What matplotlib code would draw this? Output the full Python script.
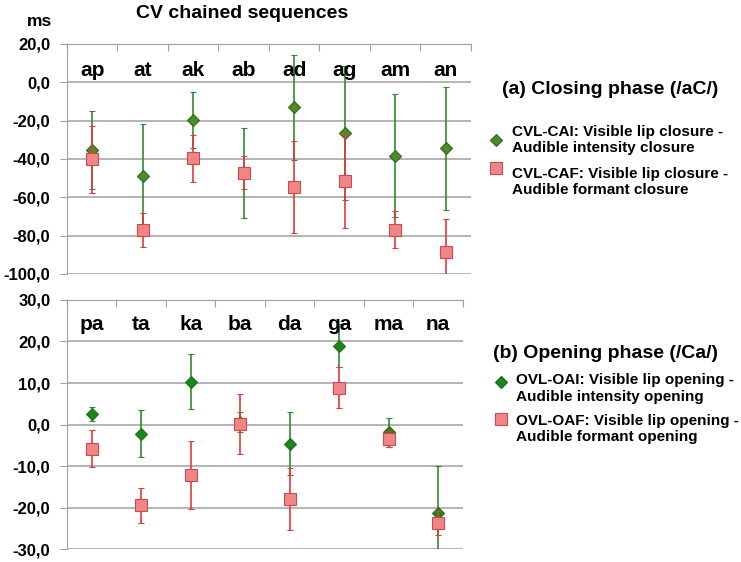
import numpy as np
import matplotlib
matplotlib.use("Agg")
import matplotlib.pyplot as plt
from matplotlib.lines import Line2D
import matplotlib.transforms as mtransforms

plt.rcParams['font.family'] = ['Liberation Sans', 'DejaVu Sans']
plt.rcParams['font.weight'] = 'bold'

# closing phase (/aC/)
close_cats = ['ap', 'at', 'ak', 'ab', 'ad', 'ag', 'am', 'an']
cai_mean = [-35.3, -48.7, -19.7, -47.4, -13.1, -26.3, -38.4, -34.4]
cai_err = [20.5, 26.8, 14.4, 23.6, 27.2, 35.0, 32.1, 32.2]
caf_mean = [-40.2, -77.0, -39.7, -47.1, -54.5, -51.5, -77.0, -88.4]
caf_err = [17.5, 8.8, 12.1, 8.5, 24.1, 24.3, 9.6, 17.0]

# opening phase (/Ca/)
open_cats = ['pa', 'ta', 'ka', 'ba', 'da', 'ga', 'ma', 'na']
oai_mean = [2.6, -2.2, 10.3, 0.5, -4.6, 19.0, -1.9, -21.4]
oai_err = [1.7, 5.6, 6.6, 2.4, 7.6, 5.1, 3.5, 11.4]
oaf_mean = [-5.8, -19.5, -12.2, 0.1, -18.0, 8.9, -3.5, -23.7]
oaf_err = [4.4, 4.3, 8.2, 7.2, 7.5, 5.0, 1.9, 2.9]

close_ticks = [20, 0, -20, -40, -60, -80, -100]
open_ticks = [30, 20, 10, 0, -10, -20, -30]

green_top = '#4f8a2b'
green_bot = '#15891a'
green_line = '#2f8a2f'
red_fill = '#f08585'
red_edge = '#d0494a'
red_line = '#e23a3a'
grid_c = '#a0a0a0'

fig = plt.figure(figsize=(7.41, 5.62), dpi=100)
ax1 = fig.add_axes([0.0904, 0.5125, 0.5452, 0.4093])
ax2 = fig.add_axes([0.0904, 0.0231, 0.5344, 0.4431])


def draw_panel(ax, cats, gm, ge, rm, re, ticks, gcol, ylab_y):
    x = np.arange(len(cats))
    ax.errorbar(x, gm, yerr=ge, fmt='D', color=gcol, ecolor=green_line,
                elinewidth=1.2, capsize=2.5, capthick=1.0, markersize=6.5,
                markeredgecolor='#2d6a1a', markeredgewidth=0.8, zorder=3)
    ax.errorbar(x, rm, yerr=re, fmt='s', color=red_fill, ecolor=red_line,
                elinewidth=1.2, capsize=2.5, capthick=1.0, markersize=8,
                markeredgecolor=red_edge, markeredgewidth=0.8, zorder=4)
    ax.set_xlim(-0.5, len(cats) - 0.5)
    ax.set_ylim(min(ticks), max(ticks))
    ax.set_yticks(ticks)
    ax.set_yticklabels([('%.1f' % t).replace('.', ',') for t in ticks],
                       fontsize=12, fontweight='bold')
    ax.yaxis.grid(True, color=grid_c, linewidth=1.1)
    ax.set_axisbelow(True)
    ax.xaxis.tick_top()
    ax.set_xticks(np.arange(len(cats) + 1) - 0.5)
    ax.set_xticklabels([])
    ax.tick_params(axis='x', direction='in', length=5, color=grid_c, top=True, bottom=False)
    ax.tick_params(axis='y', direction='out', length=5, color=grid_c, pad=7)
    for s in ['right', 'bottom']:
        ax.spines[s].set_visible(False)
    for s in ['left', 'top']:
        ax.spines[s].set_color(grid_c)
    trans = mtransforms.blended_transform_factory(ax.transData, ax.transData)
    for i, c in enumerate(cats):
        ax.text(i, ylab_y, c, ha='center', va='center', fontsize=15,
                fontweight='bold', transform=trans)


draw_panel(ax1, close_cats, cai_mean, cai_err, caf_mean, caf_err,
           close_ticks, green_top, 6.0)
draw_panel(ax2, open_cats, oai_mean, oai_err, oaf_mean, oaf_err,
           open_ticks, green_bot, 24.0)

fig.text(242 / 741, 1 - 14 / 562, 'CV chained sequences', ha='center',
         va='center', fontsize=14, fontweight='bold')
fig.text(40 / 741, 1 - 21 / 562, 'ms', ha='center', va='center',
         fontsize=12.5, fontweight='bold')

# legend texts
fig.text(502 / 741, 1 - 90 / 562, '(a) Closing phase (/aC/)', ha='left',
         va='center', fontsize=14, fontweight='bold')
fig.text(512 / 741, 1 - 140 / 562,
         'CVL-CAI: Visible lip closure -\nAudible intensity closure',
         ha='left', va='center', fontsize=11, fontweight='bold', linespacing=1.2)
fig.text(512 / 741, 1 - 182 / 562,
         'CVL-CAF: Visible lip closure -\nAudible formant closure',
         ha='left', va='center', fontsize=11, fontweight='bold', linespacing=1.2)

fig.text(493 / 741, 1 - 353 / 562, '(b) Opening phase (/Ca/)', ha='left',
         va='center', fontsize=14, fontweight='bold')
fig.text(516 / 741, 1 - 388.5 / 562,
         'OVL-OAI: Visible lip opening -\nAudible intensity opening',
         ha='left', va='center', fontsize=11, fontweight='bold', linespacing=1.2)
fig.text(516 / 741, 1 - 429 / 562,
         'OVL-OAF: Visible lip opening -\nAudible formant opening',
         ha='left', va='center', fontsize=11, fontweight='bold', linespacing=1.2)

fig.add_artist(Line2D([495.5 / 741], [1 - 140 / 562], marker='D', markersize=6,
                      color=green_top, markeredgecolor='#2d6a1a',
                      markeredgewidth=0.8, transform=fig.transFigure))
fig.add_artist(Line2D([495.5 / 741], [1 - 168 / 562], marker='s', markersize=8,
                      color=red_fill, markeredgecolor=red_edge,
                      markeredgewidth=0.8, transform=fig.transFigure))
fig.add_artist(Line2D([500.5 / 741], [1 - 382 / 562], marker='D', markersize=6,
                      color=green_bot, markeredgecolor='#0f6a12',
                      markeredgewidth=0.8, transform=fig.transFigure))
fig.add_artist(Line2D([500.5 / 741], [1 - 419 / 562], marker='s', markersize=8,
                      color=red_fill, markeredgecolor=red_edge,
                      markeredgewidth=0.8, transform=fig.transFigure))

fig.savefig('out.png', dpi=100)
